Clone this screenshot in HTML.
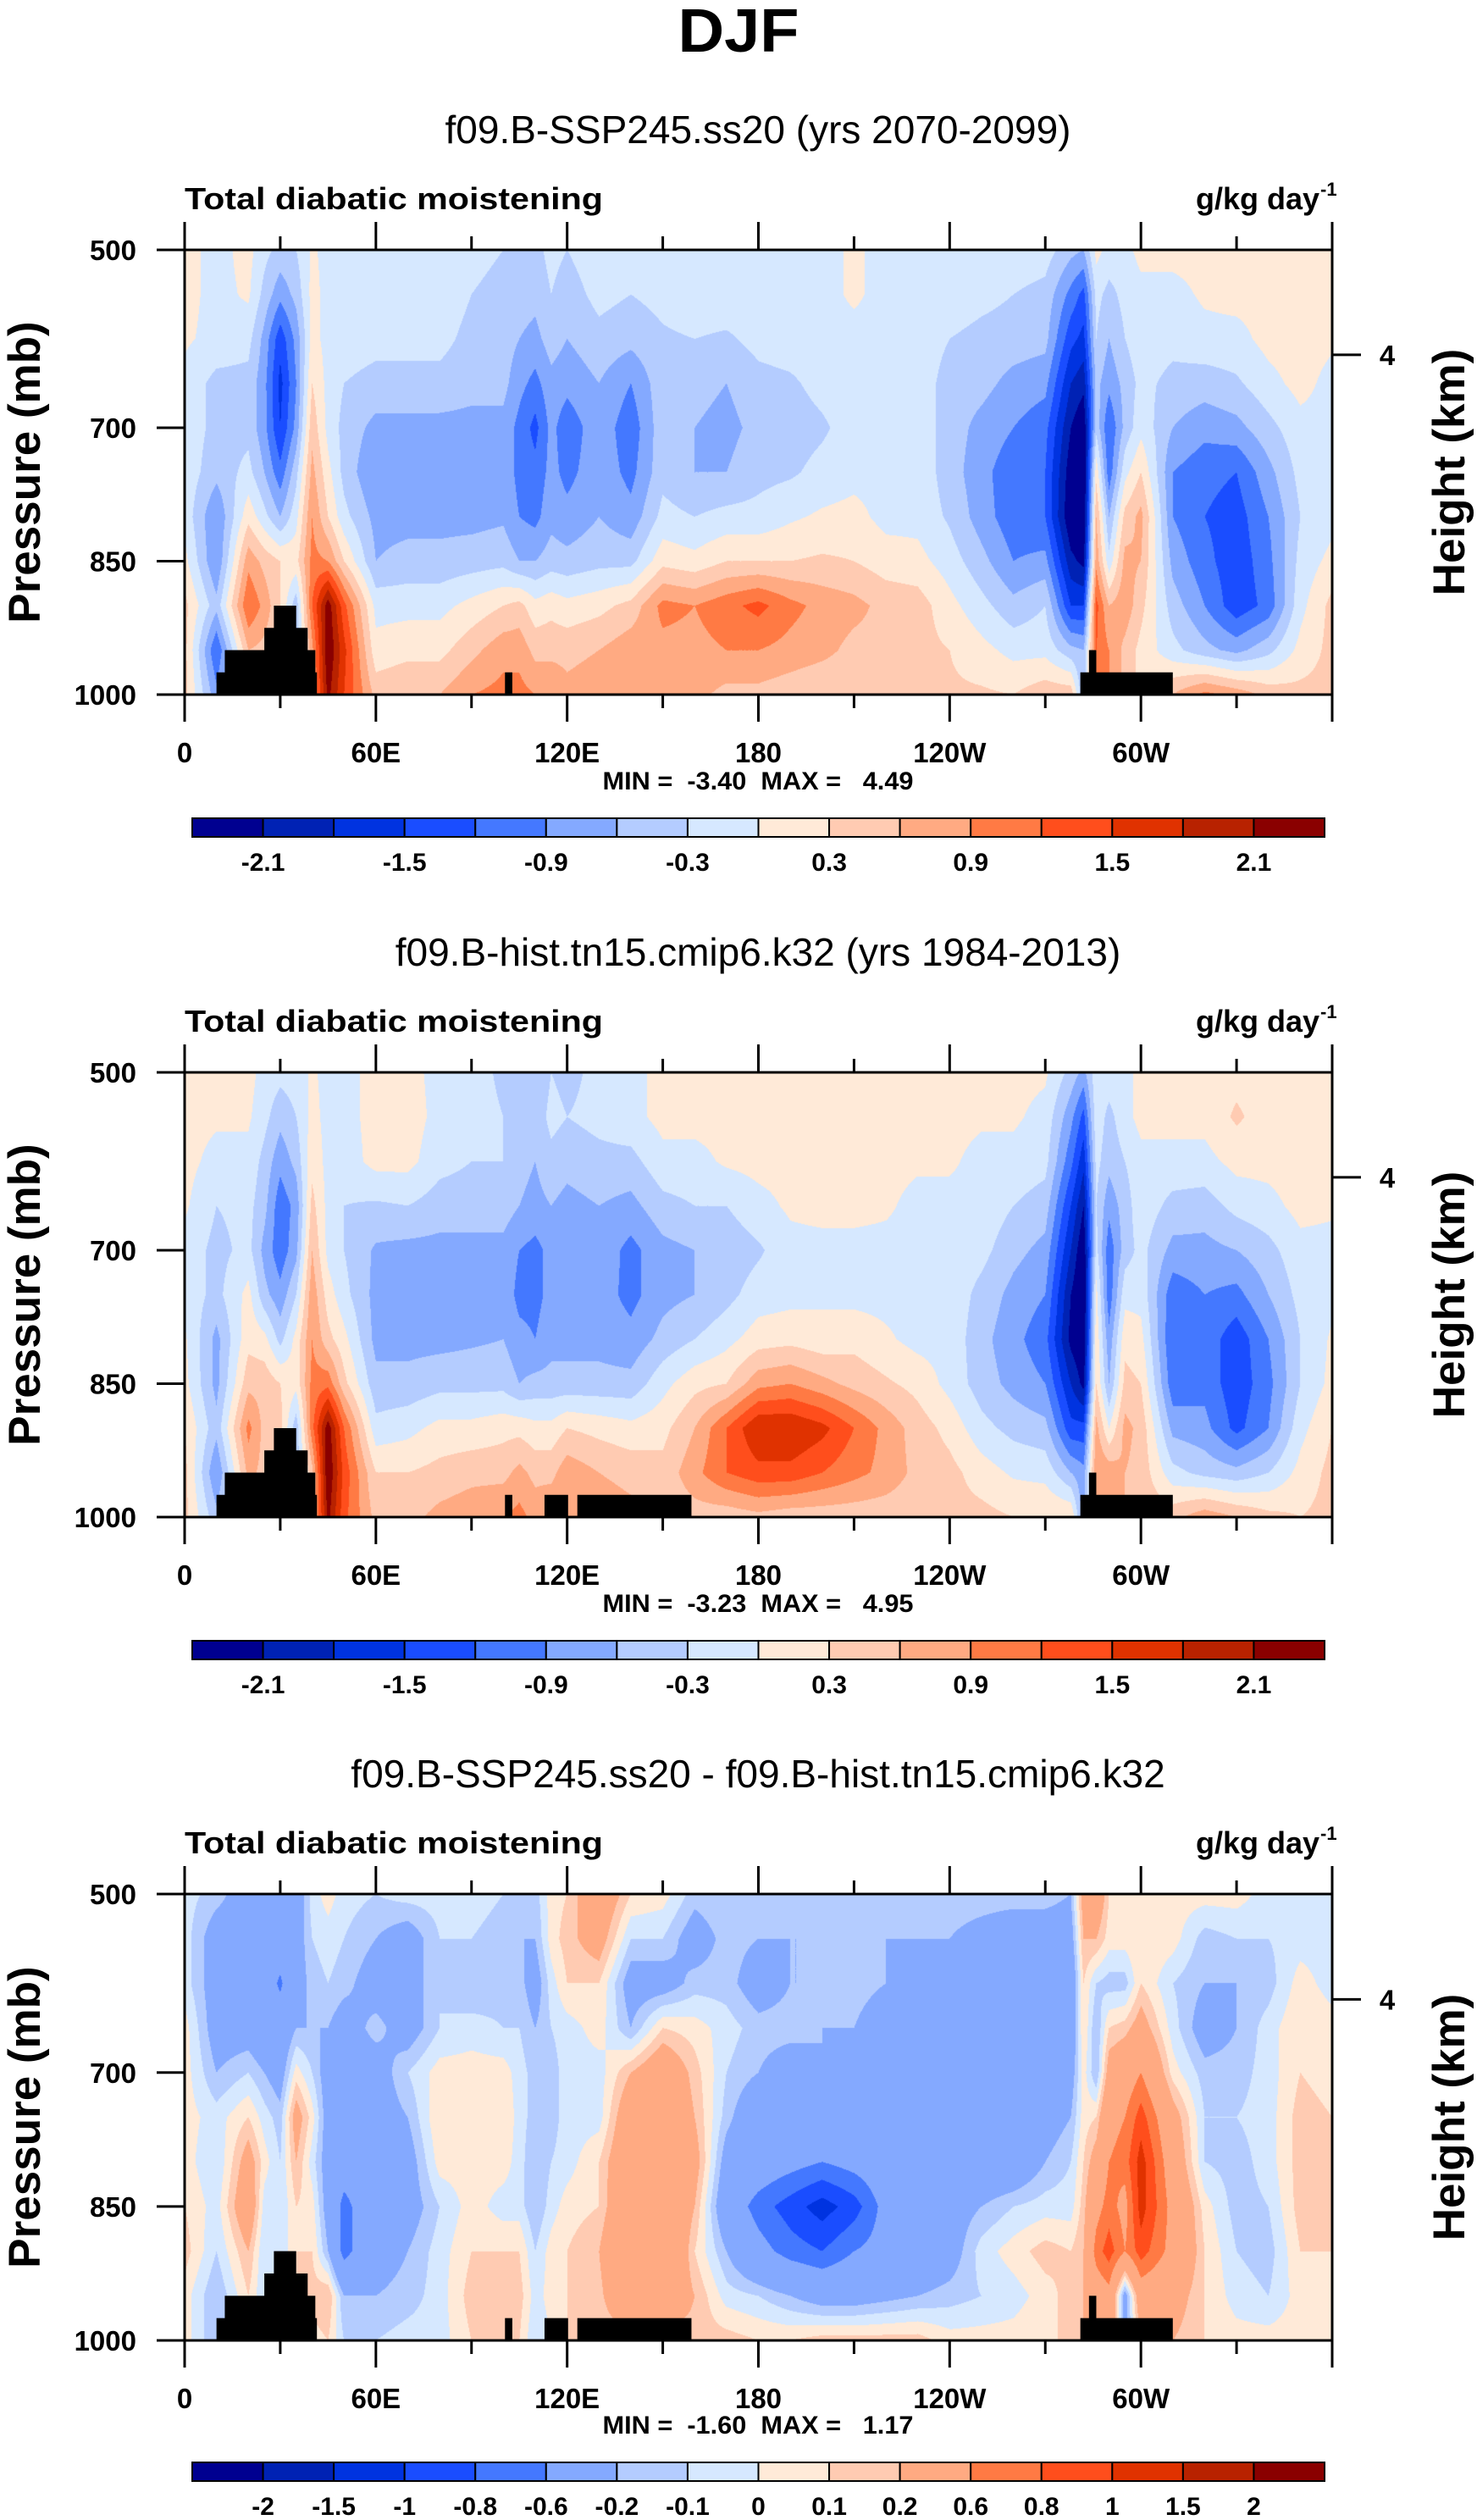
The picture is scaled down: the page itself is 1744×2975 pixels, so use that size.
<!DOCTYPE html>
<html><head><meta charset="utf-8">
<style>
html,body{margin:0;padding:0;background:#fff;}
#page{position:relative;width:1744px;height:2975px;overflow:hidden;background:#fff;}
canvas{position:absolute;}
svg{position:absolute;left:0;top:0;}
text{font-family:"Liberation Sans",Arial,sans-serif;fill:#000;}
</style></head>
<body>
<div id="page">
<canvas id="cv0" width="1355" height="525" style="left:218px;top:295px"></canvas>
<canvas id="cv1" width="1355" height="525" style="left:218px;top:1266px"></canvas>
<canvas id="cv2" width="1355" height="527" style="left:218px;top:2236px"></canvas>
<svg id="ov" width="1744" height="2975">
<text x="872" y="61" font-size="72" font-weight="bold" text-anchor="middle" textLength="143" lengthAdjust="spacingAndGlyphs">DJF</text>
</svg>
</div>
<script>
const lons=[0,10,20,25,30,35,40,45,50,60,70,80,90,100,105,110,115,120,130,140,150,160,170,180,190,200,210,220,230,240,250,260,270,278,282,286,290,295,300,310,320,330,340,350,360];
const levels=[500,550,600,650,700,750,800,850,900,950,1000];
const xTickLabels=["0","60E","120E","180","120W","60W",""];
const xTickLons=[0,60,120,180,240,300,360];
const yTickLevels=[500,700,850,1000];
const heightTickLevel=618;
const cbLevelsA=[-2.1,-1.8,-1.5,-1.2,-0.9,-0.6,-0.3,0,0.3,0.6,0.9,1.2,1.5,1.8,2.1];
const cbLabelsA=["-2.1","","-1.5","","-0.9","","-0.3","","0.3","","0.9","","1.5","","2.1"];
const cbLevelsB=[-2,-1.5,-1,-0.8,-0.6,-0.2,-0.1,0,0.1,0.2,0.6,0.8,1,1.5,2];
const cbLabelsB=["-2","-1.5","-1","-0.8","-0.6","-0.2","-0.1","0","0.1","0.2","0.6","0.8","1","1.5","2"];
const palette=["#000090","#0022b4","#0033e0","#1a4dff","#4478ff","#84a9ff","#b4ccff","#d6e8ff","#ffead8","#ffcbb2","#ffaa82","#ff7a44","#ff4e1c","#e03200","#b82200","#8a0000"];

const ssp245Cols=[
[0.1,0.1,0.05,-0.1,-0.1,-0.1,-0.1,0.1,0.4,0.4,0.4],
[-0.1,-0.1,-0.1,-0.4,-0.4,-0.5,-0.9,-0.9,-0.5,-1.2,-0.8],
[0.1,0.05,-0.2,-0.4,-0.4,-0.2,0.2,0.8,1.2,0.6,0.5],
[-0.2,-0.4,-0.7,-0.8,-0.8,-0.6,-0.2,0.5,0.8,0.5,0.5],
[-0.4,-0.8,-1.4,-1.6,-1.5,-1.1,-0.6,0.3,0.3,0.3,0.3],
[-0.3,-0.5,-0.8,-0.9,-0.8,-0.4,-0.1,0.2,-0.5,-0.5,-0.5],
[0.05,0.1,0.1,0.3,0.5,0.7,0.9,1.0,1.2,0.8,0.8],
[-0.1,-0.1,-0.1,-0.1,-0.1,0.1,0.3,0.9,2.3,2.4,2.2],
[-0.1,-0.1,-0.15,-0.3,-0.4,-0.4,-0.2,0.3,1.3,1.6,1.5],
[-0.1,-0.1,-0.2,-0.4,-0.7,-0.9,-0.7,-0.6,-0.1,0.1,0.5],
[-0.1,-0.1,-0.2,-0.4,-0.7,-0.7,-0.7,-0.5,-0.1,0.2,0.6],
[-0.1,-0.1,-0.2,-0.4,-0.7,-0.7,-0.7,-0.5,-0.1,0.2,0.6],
[-0.2,-0.3,-0.4,-0.5,-0.7,-0.7,-0.7,-0.45,0.1,0.5,0.9],
[-0.3,-0.4,-0.45,-0.5,-0.7,-0.7,-0.65,-0.4,0.3,0.8,1.0],
[-0.3,-0.45,-0.6,-0.8,-1.0,-1.0,-0.9,-0.6,0.4,0.8,1.0],
[-0.4,-0.5,-0.7,-1.0,-1.3,-1.1,-1.0,-0.6,0.1,0.5,0.9],
[-0.2,-0.3,-0.45,-0.7,-0.8,-0.8,-0.7,-0.45,0.2,0.5,0.9],
[-0.3,-0.45,-0.6,-0.8,-1.1,-1.0,-0.8,-0.5,0.1,0.5,0.7],
[-0.1,-0.2,-0.4,-0.6,-0.7,-0.7,-0.6,-0.4,0.2,0.6,0.8],
[-0.1,-0.3,-0.5,-0.9,-1.1,-1.0,-0.8,-0.4,0.4,0.8,0.8],
[-0.1,-0.2,-0.35,-0.4,-0.4,-0.4,-0.2,0.2,1.0,0.8,0.7],
[-0.1,-0.1,-0.3,-0.5,-0.6,-0.6,-0.3,0.1,0.9,0.8,0.7],
[-0.1,-0.1,-0.35,-0.6,-0.7,-0.6,-0.2,0.3,1.1,0.9,0.5],
[-0.1,-0.1,-0.2,-0.4,-0.5,-0.4,-0.2,0.3,1.3,0.9,0.5],
[-0.1,-0.1,-0.15,-0.35,-0.45,-0.35,-0.05,0.3,1.0,0.8,0.4],
[-0.1,-0.1,-0.1,-0.2,-0.35,-0.2,0.05,0.35,0.8,0.7,0.3],
[0.05,0.05,-0.1,-0.1,-0.15,-0.1,0.1,0.3,0.7,0.5,0.35],
[-0.1,-0.1,-0.1,-0.1,-0.1,-0.1,-0.1,0.15,0.5,0.5,0.3],
[-0.1,-0.1,-0.1,-0.1,-0.1,-0.1,-0.1,0.1,0.45,0.4,0.35],
[-0.1,-0.1,-0.3,-0.45,-0.45,-0.45,-0.35,-0.15,0.1,0.3,0.35],
[-0.1,-0.2,-0.4,-0.5,-0.7,-0.8,-0.75,-0.5,-0.2,0.1,0.35],
[-0.1,-0.3,-0.45,-0.7,-0.9,-1.1,-1.1,-0.9,-0.5,-0.1,0.3],
[-0.15,-0.4,-0.5,-0.8,-1.1,-1.2,-1.2,-0.8,-0.3,-0.1,0.5],
[-0.5,-1.0,-1.4,-1.8,-2.1,-2.3,-2.4,-2.0,-1.5,-0.5,0.5],
[-0.6,-1.3,-1.6,-2.0,-2.4,-2.5,-2.5,-2.2,-1.5,-0.6,-0.6],
[0.1,-0.2,-0.3,-0.5,-0.4,0.2,0.6,0.8,1.3,1.2,1.2],
[-0.1,-0.4,-0.6,-0.8,-1.2,-1.1,-0.6,-0.2,0.6,0.9,0.9],
[-0.1,-0.2,-0.3,-0.5,-0.5,-0.1,0.4,0.7,0.8,0.5,0.5],
[0.1,-0.1,-0.1,-0.2,-0.1,0.3,0.7,0.6,0.4,0.2,0.2],
[0.1,-0.1,-0.2,-0.4,-0.6,-0.9,-0.9,-0.7,-0.45,-0.2,0.6],
[0.1,0.05,-0.1,-0.45,-0.8,-1.1,-1.2,-1.1,-0.9,-0.5,1.0],
[0.1,0.1,-0.1,-0.35,-0.7,-1.2,-1.35,-1.4,-1.4,-0.7,0.8],
[0.1,0.1,0.1,-0.1,-0.4,-0.7,-0.9,-1.0,-1.1,-0.4,0.5],
[0.1,0.1,0.15,0.1,-0.1,-0.2,-0.3,-0.2,-0.1,0.1,0.4],
[0.1,0.1,0.05,-0.1,-0.1,-0.1,-0.1,0.1,0.4,0.4,0.4]
];

const histCols=[
[0.1,0.1,0.1,0.05,-0.1,-0.1,0.05,0.1,0.3,0.4,0.4],
[0.1,0.05,-0.1,-0.3,-0.4,-0.4,-0.7,-0.7,-0.5,-0.9,-0.5],
[0.1,0.05,-0.1,-0.2,-0.2,0.1,0.2,0.5,1.0,0.7,0.5],
[-0.1,-0.2,-0.4,-0.5,-0.7,-0.5,0.1,0.5,0.5,0.5,0.5],
[-0.2,-0.5,-0.8,-1.1,-1.1,-0.8,-0.4,0.3,0.4,0.4,0.4],
[-0.15,-0.3,-0.5,-0.8,-0.7,-0.3,0.1,0.1,-0.5,-0.5,-0.5],
[0.05,0.1,0.2,0.4,0.6,0.8,0.9,1.0,1.1,0.5,0.5],
[-0.1,-0.1,-0.1,-0.1,-0.1,0.15,0.4,1.1,2.3,2.4,2.2],
[-0.1,-0.1,-0.15,-0.3,-0.3,-0.2,0.1,0.4,1.2,1.4,1.3],
[0.1,0.1,0.1,-0.35,-0.65,-0.7,-0.7,-0.5,-0.2,0.3,0.5],
[0.1,0.15,0.1,-0.3,-0.7,-0.7,-0.7,-0.5,-0.1,0.3,0.5],
[-0.1,-0.1,-0.2,-0.45,-0.7,-0.7,-0.7,-0.4,0.1,0.4,0.7],
[-0.2,-0.2,-0.3,-0.45,-0.7,-0.7,-0.65,-0.4,0.1,0.5,0.8],
[-0.35,-0.3,-0.3,-0.45,-0.7,-0.7,-0.6,-0.4,0.2,0.5,0.9],
[-0.45,-0.45,-0.5,-0.6,-0.9,-1.0,-0.8,-0.6,0.2,0.7,1.0],
[-0.6,-0.5,-0.6,-0.7,-1.0,-1.0,-0.9,-0.5,0.1,0.5,0.8],
[-0.3,-0.2,-0.4,-0.6,-0.8,-0.8,-0.7,-0.5,0.1,0.5,0.9],
[-0.4,-0.3,-0.5,-0.7,-0.75,-0.75,-0.7,-0.5,0.3,0.8,0.9],
[-0.2,-0.2,-0.4,-0.6,-0.7,-0.75,-0.7,-0.5,0.2,0.6,0.8],
[-0.1,-0.1,-0.4,-0.7,-1.0,-1.0,-0.8,-0.5,0.1,0.5,0.7],
[0.1,0.1,-0.1,-0.4,-0.7,-0.7,-0.5,-0.1,0.2,0.4,0.4],
[0.1,0.1,-0.1,-0.3,-0.6,-0.6,-0.3,0.2,0.6,0.8,0.45],
[0.1,0.1,0.05,-0.3,-0.5,-0.4,-0.1,0.3,1.2,1.2,0.4],
[0.1,0.1,0.1,-0.1,-0.35,-0.15,0.15,0.8,1.8,1.4,0.5],
[0.1,0.1,0.1,0.05,-0.1,-0.1,0.2,0.9,1.8,1.4,0.4],
[0.1,0.1,0.1,0.1,-0.1,-0.05,0.1,0.7,1.6,1.2,0.4],
[0.1,0.1,0.1,0.1,-0.1,-0.1,0.2,0.5,1.2,1.0,0.4],
[0.1,0.1,0.1,0.05,-0.1,-0.1,0.05,0.35,0.8,0.8,0.4],
[0.1,0.1,0.05,-0.1,-0.1,-0.1,-0.1,0.2,0.45,0.5,0.4],
[0.1,0.1,0.05,-0.1,-0.1,-0.1,-0.1,-0.1,0.2,0.4,0.4],
[0.1,0.05,-0.1,-0.1,-0.2,-0.4,-0.5,-0.45,-0.2,0.15,0.4],
[0.1,0.05,-0.1,-0.3,-0.5,-0.7,-0.8,-0.7,-0.4,-0.05,0.3],
[0.05,-0.1,-0.2,-0.45,-0.7,-0.9,-1.1,-0.9,-0.5,-0.1,0.3],
[-0.4,-0.8,-1.1,-1.5,-1.8,-2.1,-2.2,-1.8,-1.4,-0.6,0.3],
[-0.7,-1.3,-1.7,-2.1,-2.4,-2.5,-2.4,-2.2,-1.4,-0.8,-0.8],
[-0.1,-0.1,-0.2,-0.3,-0.2,0.1,0.2,0.3,0.7,0.9,0.9],
[-0.1,-0.4,-0.5,-0.8,-1.1,-1.1,-0.8,-0.6,0.0,0.8,0.8],
[-0.1,-0.1,-0.3,-0.45,-0.45,-0.1,0.2,0.4,0.7,0.6,0.6],
[0.1,0.1,-0.1,-0.1,-0.2,-0.1,0.1,0.3,0.5,0.5,0.5],
[0.1,0.1,-0.1,-0.4,-0.7,-1.1,-1.2,-1.1,-0.7,-0.2,0.5],
[0.1,0.1,-0.1,-0.45,-0.7,-0.9,-1.0,-1.0,-0.8,-0.4,0.8],
[0.2,0.35,0.1,-0.2,-0.6,-1.0,-1.4,-1.4,-1.3,-0.5,0.6],
[0.1,0.15,0.1,-0.1,-0.4,-0.6,-0.9,-1.0,-0.9,-0.3,0.4],
[0.1,0.1,0.15,0.1,-0.1,-0.2,-0.3,-0.3,-0.1,0.1,0.3],
[0.1,0.1,0.1,0.05,-0.1,-0.1,0.05,0.1,0.3,0.4,0.4]
];

const diffCols=[
[-0.05,-0.05,-0.05,0.05,0.05,0.05,0.05,0.1,0.15,0.05,0.05],
[-0.15,-0.3,-0.3,-0.3,-0.2,-0.05,-0.1,-0.05,-0.1,-0.2,-0.2],
[-0.3,-0.3,-0.4,-0.3,-0.1,0.1,0.3,0.4,0.2,0.1,0.1],
[-0.4,-0.4,-0.4,-0.4,-0.2,-0.05,0.05,-0.05,-0.1,-0.1,-0.1],
[-0.3,-0.4,-0.65,-0.4,-0.3,-0.15,-0.1,-0.1,-0.1,-0.1,-0.1],
[-0.35,-0.3,-0.3,-0.2,0.05,0.3,0.2,0.1,0.1,0.1,0.1],
[-0.05,-0.1,-0.15,-0.2,-0.1,0.05,-0.05,0.05,0.1,0.15,0.05],
[0.05,-0.05,-0.1,-0.2,-0.3,-0.3,-0.3,-0.3,-0.2,0.2,0.1],
[-0.05,-0.1,-0.15,-0.3,-0.3,-0.4,-0.4,-0.7,-0.7,-0.2,-0.1],
[-0.1,-0.2,-0.3,-0.15,-0.3,-0.3,-0.4,-0.3,-0.3,-0.2,-0.1],
[-0.05,-0.3,-0.3,-0.3,-0.1,-0.2,-0.3,-0.3,-0.2,-0.15,-0.05],
[-0.05,-0.1,-0.1,-0.1,0.05,0.1,0.05,-0.1,-0.05,-0.05,-0.05],
[-0.05,-0.1,-0.2,-0.05,0.05,0.05,0.05,0.05,0.1,0.15,0.1],
[-0.1,-0.15,-0.15,-0.1,0.05,0.1,0.05,-0.05,0.1,0.2,0.2],
[-0.1,-0.2,-0.15,-0.1,-0.05,-0.05,-0.05,-0.05,0.1,0.15,0.1],
[-0.15,-0.2,-0.3,-0.2,-0.15,-0.15,-0.2,-0.2,-0.1,-0.05,-0.1],
[0.05,0.05,-0.05,-0.1,-0.15,-0.15,-0.1,-0.05,0.05,0.05,0.0],
[0.1,0.15,0.1,-0.05,-0.05,-0.05,-0.05,0.05,0.1,0.1,0.1],
[0.4,0.3,0.1,0.05,-0.05,-0.05,0.1,0.1,0.2,0.15,0.1],
[0.1,-0.1,-0.3,-0.2,0.2,0.4,0.45,0.5,0.6,0.5,0.1],
[0.05,-0.1,-0.3,0.1,0.4,0.45,0.5,0.5,0.6,0.4,0.1],
[-0.15,-0.3,-0.15,0.05,0.15,0.2,0.3,0.2,0.1,0.2,0.15],
[-0.1,-0.15,-0.15,-0.05,-0.1,-0.15,-0.3,-0.4,-0.2,-0.05,0.15],
[-0.15,-0.2,-0.3,-0.15,-0.2,-0.4,-0.4,-0.7,-0.5,-0.1,0.1],
[-0.15,-0.2,-0.2,-0.15,-0.3,-0.4,-0.5,-0.9,-0.7,-0.2,0.1],
[-0.1,-0.2,-0.2,-0.2,-0.2,-0.4,-0.6,-1.1,-0.8,-0.3,0.15],
[-0.1,-0.15,-0.15,-0.2,-0.25,-0.4,-0.5,-0.9,-0.6,-0.3,0.15],
[-0.15,-0.2,-0.2,-0.3,-0.4,-0.4,-0.4,-0.5,-0.5,-0.25,0.15],
[-0.15,-0.2,-0.3,-0.4,-0.4,-0.4,-0.4,-0.4,-0.4,-0.2,0.15],
[-0.15,-0.2,-0.3,-0.4,-0.4,-0.4,-0.4,-0.3,-0.3,-0.15,0.05],
[-0.15,-0.25,-0.4,-0.4,-0.4,-0.4,-0.4,-0.2,-0.05,-0.1,0.05],
[-0.15,-0.3,-0.4,-0.4,-0.4,-0.4,-0.4,-0.1,0.05,-0.05,0.05],
[-0.15,-0.3,-0.4,-0.4,-0.4,-0.3,-0.2,-0.05,0.15,0.05,0.1],
[-0.2,-0.3,-0.4,-0.4,-0.3,-0.2,-0.1,-0.05,0.1,0.15,0.1],
[0.3,0.2,0.1,0.1,0.05,0.05,0.1,0.15,0.2,0.2,0.2],
[0.4,0.2,-0.1,-0.2,-0.2,0.1,0.3,0.5,0.7,0.4,0.4],
[0.1,0.05,-0.15,0.1,0.3,0.5,0.6,0.7,0.9,0.5,0.5],
[0.1,0.05,-0.15,0.15,0.4,0.6,0.7,0.5,0.6,-0.3,-0.3],
[0.1,0.1,0.1,0.3,0.6,0.9,1.1,1.1,0.9,0.4,0.2],
[0.05,0.05,-0.1,-0.05,0.05,0.3,0.4,0.5,0.5,0.3,0.2],
[0.05,-0.15,-0.2,-0.3,-0.15,-0.1,-0.1,0.05,0.1,0.1,0.1],
[0.05,-0.1,-0.2,-0.2,-0.15,-0.1,-0.15,-0.15,-0.1,-0.05,0.05],
[-0.05,-0.1,-0.15,-0.05,-0.05,-0.05,-0.05,-0.1,-0.15,-0.1,0.05],
[-0.05,-0.05,0.05,0.1,0.1,0.15,0.15,0.15,0.1,0.05,0.05],
[-0.05,-0.05,-0.05,0.05,0.05,0.1,0.1,0.1,0.1,0.1,0.1]
];

/* topography blocks: [lon start, lon end, top pressure] */
const topoSsp=[[10,41.5,975],[12.6,41,950],[25,38.6,925],[28,35,900],[100.5,102.8,975],[281,310,975],[283.7,286,950]];
const topoHist=[[10,41.5,975],[12.6,41,950],[25,38.6,925],[28,35,900],[100.5,102.8,975],[112.9,120.3,975],[123.2,159,975],[281,310,975],[283.7,286,950]];
const topoDiff=topoHist;

const panels=[
 {top:295,h:525,title:"f09.B-SSP245.ss20 (yrs 2070-2099)",cols:ssp245Cols,topo:topoSsp,cbl:cbLevelsA,cbt:cbLabelsA,min:"-3.40",max:"4.49",key:"ssp245"},
 {top:1266,h:525,title:"f09.B-hist.tn15.cmip6.k32 (yrs 1984-2013)",cols:histCols,topo:topoHist,cbl:cbLevelsA,cbt:cbLabelsA,min:"-3.23",max:"4.95",key:"hist"},
 {top:2236,h:527,title:"f09.B-SSP245.ss20 - f09.B-hist.tn15.cmip6.k32",cols:diffCols,topo:topoDiff,cbl:cbLevelsB,cbt:cbLabelsB,min:"-1.60",max:"1.17",key:"diff"}
];

const PX0=218,PW=1355;
const NS="http://www.w3.org/2000/svg";
const ov=document.getElementById('ov');
function mk(tag,attrs,parent){const e=document.createElementNS(NS,tag);for(const k in attrs)e.setAttribute(k,attrs[k]);(parent||ov).appendChild(e);return e;}
function hex(c){return [parseInt(c.substr(1,2),16),parseInt(c.substr(3,2),16),parseInt(c.substr(5,2),16)];}
const palRGB=palette.map(hex);

function sample(cols,lon,p){
  let i=0;while(i<lons.length-2&&lon>lons[i+1])i++;
  const tx=(lon-lons[i])/(lons[i+1]-lons[i]);
  let fj=(p-levels[0])/(levels[1]-levels[0]);let j=Math.min(Math.floor(fj),levels.length-2);const ty=fj-j;
  const a=cols[i][j],b=cols[i+1][j],c=cols[i][j+1],d=cols[i+1][j+1];
  return (a*(1-tx)+b*tx)*(1-ty)+(c*(1-tx)+d*tx)*ty;
}
function cls(v,bounds){let k=0;while(k<bounds.length&&v>=bounds[k])k++;return k;}

panels.forEach((P,pi)=>{
  const T=P.top,H=P.h,B=T+H;
  const xS=lon=>PX0+lon/360*PW;
  const yS=p=>T+(p-500)/500*H;
  const cv=document.getElementById('cv'+pi);const ctx=cv.getContext('2d');
  const img=ctx.createImageData(PW,H);
  for(let px=0;px<PW;px++){
    const lon=(px+0.5)/PW*360;
    for(let py=0;py<H;py++){
      const p=500+(py+0.5)/H*500;
      const v=sample(P.cols,lon,p);
      const rgb=palRGB[cls(v,P.cbl)];
      const o=(py*PW+px)*4;img.data[o]=rgb[0];img.data[o+1]=rgb[1];img.data[o+2]=rgb[2];img.data[o+3]=255;
    }
  }
  ctx.putImageData(img,0,0);
  const g=mk('g',{});
  
  
  P.topo.forEach(tb=>{
    const r=mk('rect',{x:xS(tb[0]),y:yS(tb[2]),width:xS(tb[1])-xS(tb[0]),height:B-yS(tb[2]),fill:'#000'},g);
    
    
  });
  const fr=mk('rect',{x:PX0,y:T,width:PW,height:H,fill:'none',stroke:'#000','stroke-width':3},g);
  
  
  const st=mk('text',{x:895,y:T-126,'font-size':46,'text-anchor':'middle'},g);st.textContent=P.title;
  
  
  const lt=mk('text',{x:218,y:T-48,'font-size':36,'font-weight':'bold',textLength:494,lengthAdjust:'spacingAndGlyphs'},g);lt.textContent='Total diabatic moistening';
  
  
  const ut=mk('text',{x:1558,y:T-48,'font-size':36,'font-weight':'bold','text-anchor':'end'},g);ut.textContent='g/kg day';
  
  
  const us=mk('text',{x:1559,y:T-64,'font-size':22,'font-weight':'bold'},g);us.textContent='-1';
  
  
  for(let lon=0;lon<=360;lon+=30){
    const major=lon%60===0;const x=xS(lon);
    const t1=mk('line',{x1:x,x2:x,y1:T,y2:T-(major?33:16),stroke:'#000','stroke-width':3},g);
    
    
    const t2=mk('line',{x1:x,x2:x,y1:B,y2:B+(major?32:16),stroke:'#000','stroke-width':3},g);
    
    
  }
  xTickLons.forEach((lon,k)=>{
    if(!xTickLabels[k])return;
    const t=mk('text',{x:xS(lon),y:B+80,'font-size':33,'font-weight':'bold','text-anchor':'middle'},g);t.textContent=xTickLabels[k];
    
    
  });
  yTickLevels.forEach(p=>{
    const y=yS(p);
    const l=mk('line',{x1:185,x2:PX0,y1:y,y2:y,stroke:'#000','stroke-width':3},g);
    
    
    const t=mk('text',{x:161,y:y+12,'font-size':33,'font-weight':'bold','text-anchor':'end'},g);t.textContent=String(p);
    
    
  });
  const hy=yS(heightTickLevel);
  const hl=mk('line',{x1:PX0+PW,x2:1607,y1:hy,y2:hy,stroke:'#000','stroke-width':3},g);
  
  
  const ht=mk('text',{x:1638,y:hy+12,'font-size':33,'font-weight':'bold','text-anchor':'middle'},g);ht.textContent='4';
  
  
  const cy=T+H/2;
  const ya=mk('text',{x:0,y:0,'font-size':53,'font-weight':'bold','text-anchor':'middle',transform:`translate(47,${cy}) rotate(-90)`},g);ya.textContent='Pressure (mb)';
  
  
  const ra=mk('text',{x:0,y:0,'font-size':53,'font-weight':'bold','text-anchor':'middle',transform:`translate(1729,${cy}) rotate(-90)`},g);ra.textContent='Height (km)';
  
  
  const mm=mk('text',{x:895,y:T+637,'font-size':30,'font-weight':'bold','text-anchor':'middle',textLength:367,lengthAdjust:'spacingAndGlyphs',style:'white-space:pre'},g);
  mm.textContent='MIN =  '+P.min+'  MAX =   '+P.max;
  
  
  const cbX=227,cbW=1337,seg=cbW/16,cbY=T+671,cbH=22;
  palette.forEach((c,k)=>{
    const r=mk('rect',{x:cbX+k*seg,y:cbY,width:seg,height:cbH,fill:c,stroke:'#000','stroke-width':2},g);
    
    
  });
  P.cbt.forEach((lab,k)=>{
    if(!lab)return;
    const t=mk('text',{x:cbX+(k+1)*seg,y:T+733,'font-size':30,'font-weight':'bold','text-anchor':'middle'},g);t.textContent=lab;
    
    
  });
});
</script>
</body></html>
